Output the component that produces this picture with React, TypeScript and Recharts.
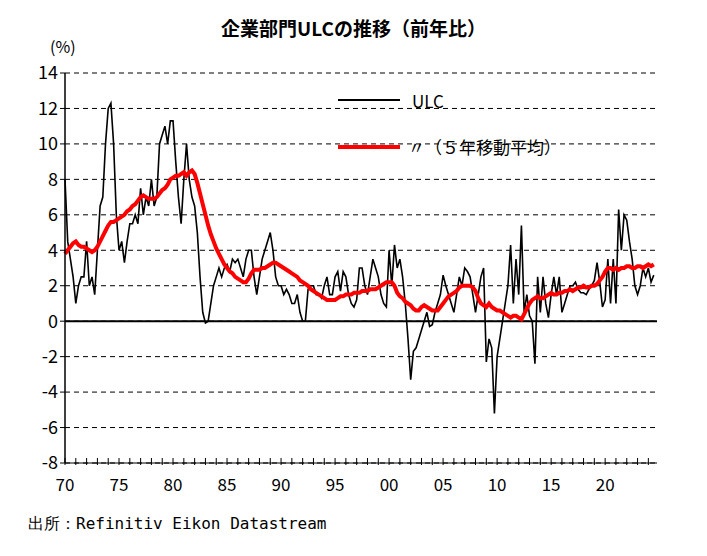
import React from "react"
import { LineChart, Line, XAxis, YAxis, CartesianGrid, ReferenceLine } from "recharts"

// quarterly, from 1970 Q1
const ulc = [
  8, 4.5, 3.5, 2.5, 1, 2, 2.5, 2.5, 4.5, 2, 2.5, 1.5, 4, 6.5, 7, 10,
  12, 12.3, 10, 6, 4, 4.5, 3.3, 4.5, 5.5, 5.5, 6, 5.5, 7.5, 6, 7, 6.5,
  8, 6.5, 7, 10, 10.5, 11, 10, 11.3, 11.3, 9, 7, 5.5, 8, 10, 8, 7,
  6.5, 5, 2.5, 0.5, -0.1, 0, 1, 2, 2.5, 3, 2.5, 3, 3.2, 2.8, 3.5, 3.3,
  3.5, 3, 2.5, 3.5, 4, 4, 2.5, 1.5, 2.5, 3.5, 4, 4.5, 5, 4, 2.5, 2,
  2, 1.5, 1.8, 1.5, 1, 1, 1.5, 0.5, 0, 0, 1.8, 2, 2, 1.5, 1.5, 1.3,
  2, 2.5, 1.5, 1.5, 2.5, 2.8, 1.7, 2.8, 2.5, 1.5, 1, 0.8, 1.2, 3, 3, 2,
  1.5, 2.5, 3.5, 3, 2.5, 1.5, 1, 0.8, 4, 2, 4.3, 3, 3.5, 2.5, 1, -1,
  -3.3, -1.7, -1.5, -1, -0.5, 0, 0.5, -0.3, -0.2, 0.5, 1, 1.5, 2.6, 2, 1.5, 1,
  0.5, 1.5, 2.5, 2, 3, 2.8, 2.5, 1.5, 0.5, 1.5, 2.5, 3, -2.3, -1, -1.5, -5.2,
  -2, -1, 0, 1, 2, 4.3, 1, 3.5, 1.5, 5.4, 0.5, 1.5, 0.3, 0, -2.4, 2.5,
  0.5, 2.5, 1, 0.2, 1.5, 2.5, 1.5, 2.5, 0.5, 1, 1.5, 2, 2, 2.2, 1.8, 1.6,
  1.6, 1.5, 1.8, 2, 2.3, 3.3, 2.2, 0.8, 1.2, 3.5, 1, 3.5, 1, 6.3, 4, 6,
  5.7, 4.5, 3.5, 2, 1.5, 2, 3, 2.5, 3, 2.2, 2.6,
]

const ma5 = [
  3.8, 4.0, 4.2, 4.4, 4.5, 4.3, 4.2, 4.2, 4.1, 4.0, 3.9, 4.0, 4.2, 4.5, 4.8, 5.1,
  5.4, 5.6, 5.6, 5.7, 5.8, 5.9, 6.0, 6.2, 6.3, 6.5, 6.6, 6.8, 7.0, 7.1, 7.0, 6.9,
  6.9, 6.9, 7.0, 7.2, 7.4, 7.5, 7.7, 8.0, 8.1, 8.2, 8.2, 8.3, 8.4, 8.2, 8.4, 8.5,
  8.3, 7.8, 7.2, 6.6, 6.0, 5.4, 4.9, 4.5, 4.1, 3.8, 3.5, 3.2, 3.0, 2.8, 2.7, 2.5,
  2.4, 2.3, 2.2, 2.2, 2.4, 2.7, 2.9, 2.9, 2.9, 3.0, 3.0, 3.1, 3.2, 3.3, 3.3, 3.2,
  3.1, 3.0, 2.9, 2.8, 2.7, 2.6, 2.5, 2.3, 2.2, 2.1, 2.0, 1.8, 1.7, 1.6, 1.5, 1.4,
  1.3, 1.2, 1.2, 1.2, 1.2, 1.3, 1.4, 1.4, 1.5, 1.5, 1.5, 1.6, 1.6, 1.6, 1.7, 1.7,
  1.7, 1.8, 1.8, 1.8, 1.9, 2.0, 2.1, 2.2, 2.2, 2.2, 2.0, 1.6, 1.4, 1.3, 1.1, 1.0,
  0.9, 0.7, 0.6, 0.6, 0.8, 0.9, 0.8, 0.7, 0.6, 0.6, 0.6, 0.8, 1.0, 1.2, 1.4, 1.5,
  1.6, 1.7, 1.9, 2.0, 2.0, 2.0, 2.0, 1.9, 1.7, 1.3, 1.0, 0.9, 0.8, 1.0, 0.8, 0.7,
  0.6, 0.6, 0.5, 0.4, 0.3, 0.2, 0.3, 0.3, 0.2, 0.1, 0.4, 0.7, 1.0, 1.2, 1.3, 1.4,
  1.3, 1.3, 1.4, 1.5, 1.6, 1.5, 1.5, 1.6, 1.6, 1.7, 1.7, 1.8, 1.7, 1.8, 1.9, 1.9,
  2.0, 1.9, 1.9, 2.0, 2.0, 2.1, 2.3, 2.5, 2.8, 3.0, 3.0, 2.9, 3.0, 2.9, 3.0, 3.0,
  3.1, 3.1, 3.0, 3.0, 3.1, 3.1, 3.0, 3.1, 3.2, 3.1, 3.2,
]

const yTicks = [-8, -6, -4, -2, 0, 2, 4, 6, 8, 10, 12, 14]
const xTicks = Array.from({ length: 55 }, (_, i) => 1970 + i)

const data = ulc.map((v, i) => ({ t: 1970 + i / 4, ulc: v, ma: ma5[i] }))

const font = "'Noto Sans CJK JP', sans-serif"

const YearTick = (props: any) => {
  const { x, y, payload } = props
  const yr = payload.value
  return (
    <g>
      <line x1={x} x2={x} y1={y} y2={y - 7} stroke="#000" />
      {yr % 5 === 0 && (
        <text x={x} y={y + 26} textAnchor="middle" fontSize={17} fontFamily={font} fill="#000">
          {String(yr % 100).padStart(2, "0")}
        </text>
      )}
    </g>
  )
}

export default function App() {
  return (
    <div style={{ position: "absolute", left: 0, top: 0, width: 707, height: 556, background: "#fff", fontFamily: font }}>
      <div style={{ position: "absolute", top: 14, width: 707, textAlign: "center", fontSize: 19, fontWeight: "bold" }}>
        企業部門ULCの推移（前年比）
      </div>
      <div style={{ position: "absolute", left: 50, top: 34, fontSize: 16 }}>(%)</div>
      <LineChart width={707} height={556} data={data} margin={{ top: 73, right: 50, bottom: 63, left: 15 }}>
        <CartesianGrid vertical={false} stroke="#000" strokeDasharray="5 4" />
        <XAxis
          dataKey="t"
          type="number"
          domain={[1970, 2024.8]}
          ticks={xTicks}
          interval={0}
          tickSize={0}
          tickLine={false}
          tick={<YearTick />}
          axisLine={{ stroke: "#000" }}
          height={30}
        />
        <YAxis
          domain={[-8, 14]}
          ticks={yTicks}
          interval={0}
          width={50}
          tickSize={5}
          tickLine={{ stroke: "#000" }}
          axisLine={{ stroke: "#000", strokeWidth: 1.5 }}
          tick={{ fill: "#000", fontSize: 18, fontFamily: font }}
        />
        <ReferenceLine y={0} stroke="#000" strokeWidth={2} />
        <Line dataKey="ulc" stroke="#000" strokeWidth={1.6} dot={false} isAnimationActive={false} />
        <Line dataKey="ma" stroke="#ff0000" strokeWidth={4} dot={false} isAnimationActive={false} />
      </LineChart>
      <div style={{ position: "absolute", left: 338, top: 99, width: 62, borderTop: "2px solid #000" }} />
      <div style={{ position: "absolute", left: 412, top: 88, fontSize: 17 }}>ULC</div>
      <div style={{ position: "absolute", left: 338, top: 145, width: 62, borderTop: "4px solid #ff0000" }} />
      <div style={{ position: "absolute", left: 408, top: 134, fontSize: 17 }}>〃（５年移動平均）</div>
      <div style={{ position: "absolute", left: 28, top: 514, fontSize: 16, fontFamily: "'DejaVu Sans Mono', monospace" }}>
        出所：Refinitiv Eikon Datastream
      </div>
    </div>
  )
}
